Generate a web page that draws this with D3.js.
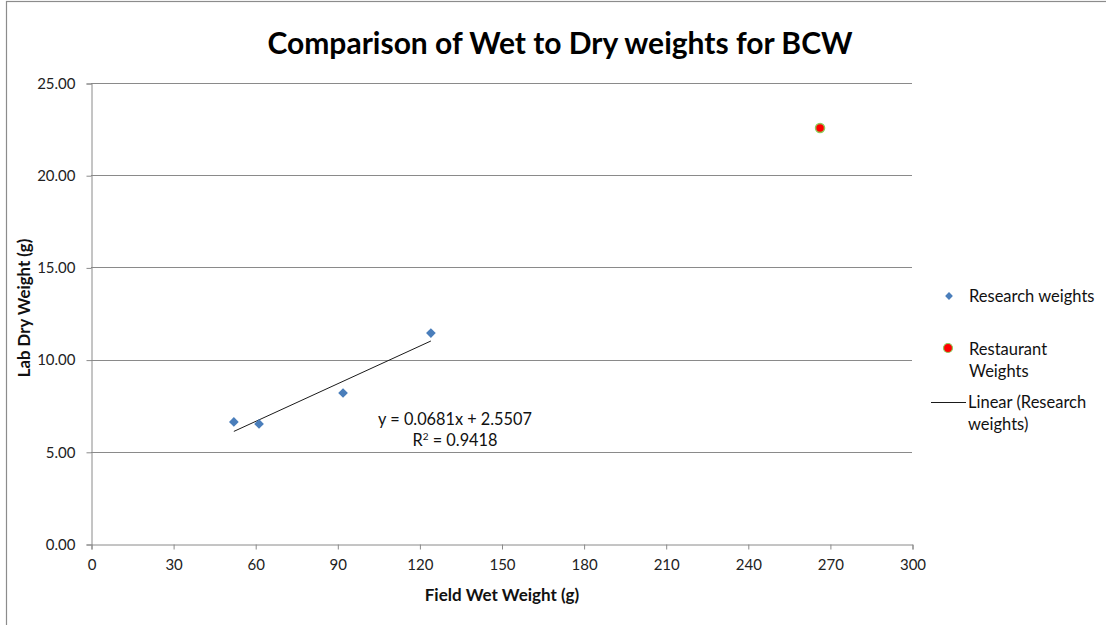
<!DOCTYPE html>
<html>
<head>
<meta charset="utf-8">
<script src="https://cdn.jsdelivr.net/npm/d3@7"></script>
<style>
  html, body { margin: 0; padding: 0; background: #fff; }
  svg { display: block; font-family: Lato, "Open Sans", sans-serif; }
</style>
</head>
<body>
<svg id="chart" width="1106" height="625"></svg>
<script>
// Research samples: field wet weight (g) vs lab dry weight (g)
const researchWet = [52.2, 61.4, 92.1, 124.2];
const researchDry = [6.62, 6.51, 8.19, 11.44];
// Restaurant sample
const restaurantWet = [266.4];
const restaurantDry = [22.56];
// Linear fit of the research weights
const fitSlope = 0.0681;
const fitIntercept = 2.5507;
const fitR2 = 0.9418;
// Axis ticks
const xTicks = [0, 30, 60, 90, 120, 150, 180, 210, 240, 270, 300];
const yTicks = [0, 5, 10, 15, 20, 25];
const legendLabels = [["Research weights"], ["Restaurant", "Weights"], ["Linear (Research", "weights)"]];

const svg = d3.select("#chart");

// outer chart frame
svg.append("rect").attr("x", 6.5).attr("y", 1.5).attr("width", 1120).attr("height", 640)
  .attr("fill", "none").attr("stroke", "#8c8c8c").attr("stroke-width", 1.2);

const x = d3.scaleLinear().domain([0, 300]).range([91, 912]);
const y = d3.scaleLinear().domain([0, 25]).range([544, 83]);

// horizontal gridlines
svg.append("g").selectAll("line").data(yTicks.filter(d => d > 0)).join("line")
  .attr("x1", x(0)).attr("x2", x(300))
  .attr("y1", d => Math.round(y(d)) + 0.5).attr("y2", d => Math.round(y(d)) + 0.5)
  .attr("stroke", "#8a8a8a").attr("stroke-width", 1);

// y axis
const yAxis = svg.append("g").attr("transform", `translate(${x(0) + 0.5},0.5)`)
  .call(d3.axisLeft(y).tickValues(yTicks).tickFormat(d3.format(".2f")).tickSize(5).tickPadding(11));
// x axis
const xAxis = svg.append("g").attr("transform", `translate(0.5,${y(0) + 0.5})`)
  .call(d3.axisBottom(x).tickValues(xTicks).tickFormat(d3.format("d")).tickSize(5).tickPadding(10));

[yAxis, xAxis].forEach(g => {
  g.select(".domain").attr("stroke", "#8a8a8a");
  g.selectAll(".tick line").attr("stroke", "#8a8a8a");
  g.selectAll(".tick text").attr("fill", "#222").style("font-size", "15px")
    .style("font-family", "Lato, sans-serif");
});

// title
svg.append("text").attr("x", 560).attr("y", 54).attr("text-anchor", "middle")
  .style("font-size", "30px").style("font-weight", "bold").attr("fill", "#000")
  .text("Comparison of Wet to Dry weights for BCW");

// axis titles
svg.append("text").attr("x", 502).attr("y", 601).attr("text-anchor", "middle")
  .style("font-size", "17px").style("font-weight", "bold").attr("fill", "#111")
  .text("Field Wet Weight (g)");
svg.append("text").attr("transform", "translate(30,308) rotate(-90)").attr("text-anchor", "middle")
  .style("font-size", "16.8px").style("font-weight", "bold").attr("fill", "#111")
  .text("Lab Dry Weight (g)");

// trendline from the fitted equation over the research x-range
const xMin = d3.min(researchWet), xMax = d3.max(researchWet);
svg.append("line")
  .attr("x1", x(xMin)).attr("y1", y(fitSlope * xMin + fitIntercept))
  .attr("x2", x(xMax)).attr("y2", y(fitSlope * xMax + fitIntercept))
  .attr("stroke", "#1a1a1a").attr("stroke-width", 1);

// research points (diamonds)
const diamond = d3.symbol().type(d3.symbolDiamond2).size(60);
svg.append("g").selectAll("path").data(researchWet.map((w, i) => [w, researchDry[i]])).join("path")
  .attr("d", diamond)
  .attr("transform", d => `translate(${x(d[0])},${y(d[1])})`)
  .attr("fill", "#4a7ebb");

// restaurant point
svg.append("g").selectAll("circle").data(restaurantWet.map((w, i) => [w, restaurantDry[i]])).join("circle")
  .attr("cx", d => x(d[0])).attr("cy", d => y(d[1])).attr("r", 4.5)
  .attr("fill", "#ff0000").attr("stroke", "#8fc95a").attr("stroke-width", 1.5);

// equation label
const eq = svg.append("text").attr("text-anchor", "middle").style("font-size", "16.3px").attr("fill", "#111");
eq.append("tspan").attr("x", 455).attr("y", 425).text(`y = ${fitSlope}x + ${fitIntercept}`);
const r2 = eq.append("tspan").attr("x", 455).attr("y", 446);
r2.append("tspan").text("R");
r2.append("tspan").attr("dy", -6).style("font-size", "10px").text("2");
r2.append("tspan").attr("dy", 6).text(` = ${fitR2}`);

// legend
const lg = svg.append("g").style("font-size", "16.5px").attr("fill", "#111");
lg.append("path").attr("d", diamond).attr("transform", "translate(949,296) scale(0.8)").attr("fill", "#4a7ebb");
lg.append("circle").attr("cx", 948).attr("cy", 348).attr("r", 4.5)
  .attr("fill", "#ff0000").attr("stroke", "#8fc95a").attr("stroke-width", 1.2);
lg.append("line").attr("x1", 931).attr("x2", 966).attr("y1", 402.5).attr("y2", 402.5)
  .attr("stroke", "#1a1a1a").attr("stroke-width", 1);
const legendY = [302, 355, 408];
legendLabels.forEach((lines, i) => {
  const lx = i === 2 ? 968 : 969;
  const t = lg.append("text").attr("x", lx).attr("y", legendY[i]).attr("fill", "#111");
  lines.forEach((s, j) => t.append("tspan").attr("x", lx).attr("dy", j ? 22 : 0).text(s));
});
</script>
</body>
</html>
